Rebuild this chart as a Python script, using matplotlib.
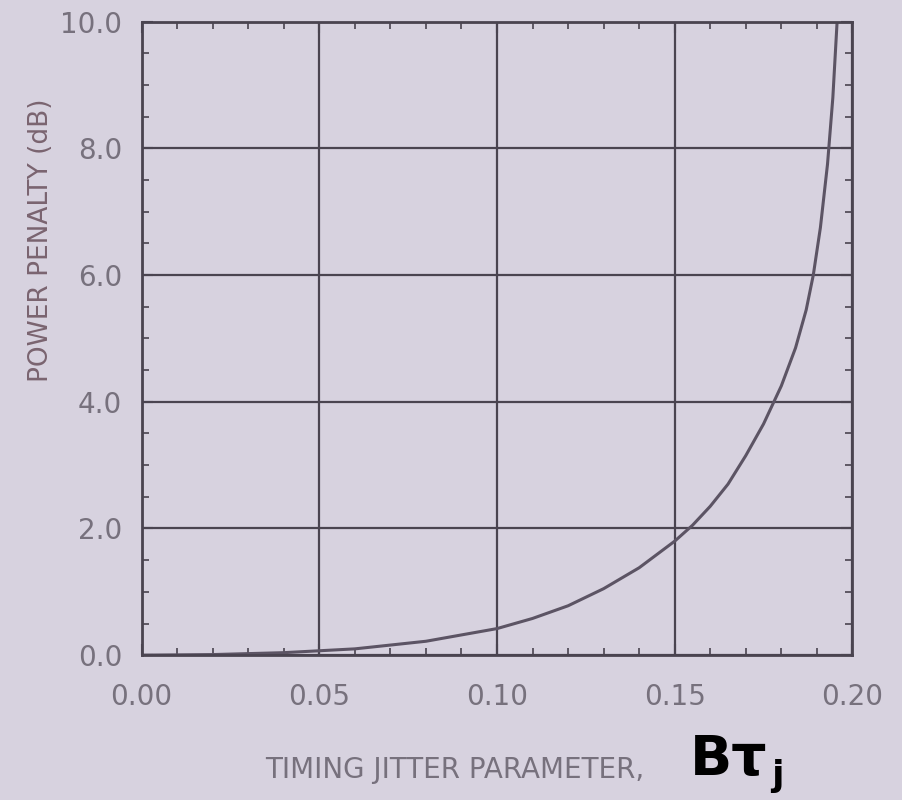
import matplotlib.pyplot as plt
from matplotlib.ticker import MultipleLocator

jitter = [0.0, 0.02, 0.04, 0.06, 0.08, 0.10, 0.11, 0.12, 0.13, 0.14, 0.15,
          0.155, 0.16, 0.165, 0.17, 0.175, 0.18, 0.184, 0.187, 0.189, 0.191,
          0.193, 0.1945, 0.1957]
penalty = [0.0, 0.01, 0.04, 0.10, 0.22, 0.42, 0.58, 0.78, 1.05, 1.38, 1.8,
           2.05, 2.35, 2.7, 3.15, 3.65, 4.25, 4.85, 5.45, 6.0, 6.75,
           7.75, 8.8, 10.0]
x_ticks = [0.00, 0.05, 0.10, 0.15, 0.20]
y_ticks = [0.0, 2.0, 4.0, 6.0, 8.0, 10.0]

BG = "#d7d2df"
INK = "#4a4450"
LABEL = "#77717d"

fig = plt.figure(figsize=(9.02, 8), dpi=100, facecolor=BG)
ax = fig.add_axes([0.157, 0.181, 0.788, 0.792])
ax.set_facecolor(BG)

ax.plot(jitter, penalty, color="#5c5464", linewidth=2.2)

ax.set_xlim(0, 0.20)
ax.set_ylim(0, 10)
ax.set_xticks(x_ticks)
ax.set_xticklabels([f"{v:.2f}" for v in x_ticks])
ax.set_yticks(y_ticks)
ax.set_yticklabels([f"{v:.1f}" for v in y_ticks])
ax.xaxis.set_minor_locator(MultipleLocator(0.01))
ax.yaxis.set_minor_locator(MultipleLocator(0.5))

ax.grid(True, which="major", color=INK, linewidth=1.6)
for side in ax.spines.values():
    side.set_color(INK)
    side.set_linewidth(2)

ax.tick_params(which="both", direction="in", top=True, right=True,
               color=INK, labelcolor=LABEL, labelsize=20)
ax.tick_params(which="major", length=8, width=1.5, pad=14)
ax.tick_params(which="minor", length=5, width=1.2)
ax.tick_params(axis="x", which="major", pad=20)

fig.text(0.045, 0.70, "POWER PENALTY (dB)", rotation=90, ha="center",
         va="center", fontsize=19, color="#7a6470")
fig.text(0.294, 0.037, "TIMING JITTER PARAMETER,", ha="left", va="center",
         fontsize=20, color=LABEL)
fig.text(0.765, 0.05, "Bτ", ha="left", va="center", fontsize=40,
         fontweight="bold", color="black")
fig.text(0.855, 0.03, "j", ha="left", va="center", fontsize=26,
         fontweight="bold", color="black")

fig.savefig("out.png", dpi=100, facecolor=BG)
